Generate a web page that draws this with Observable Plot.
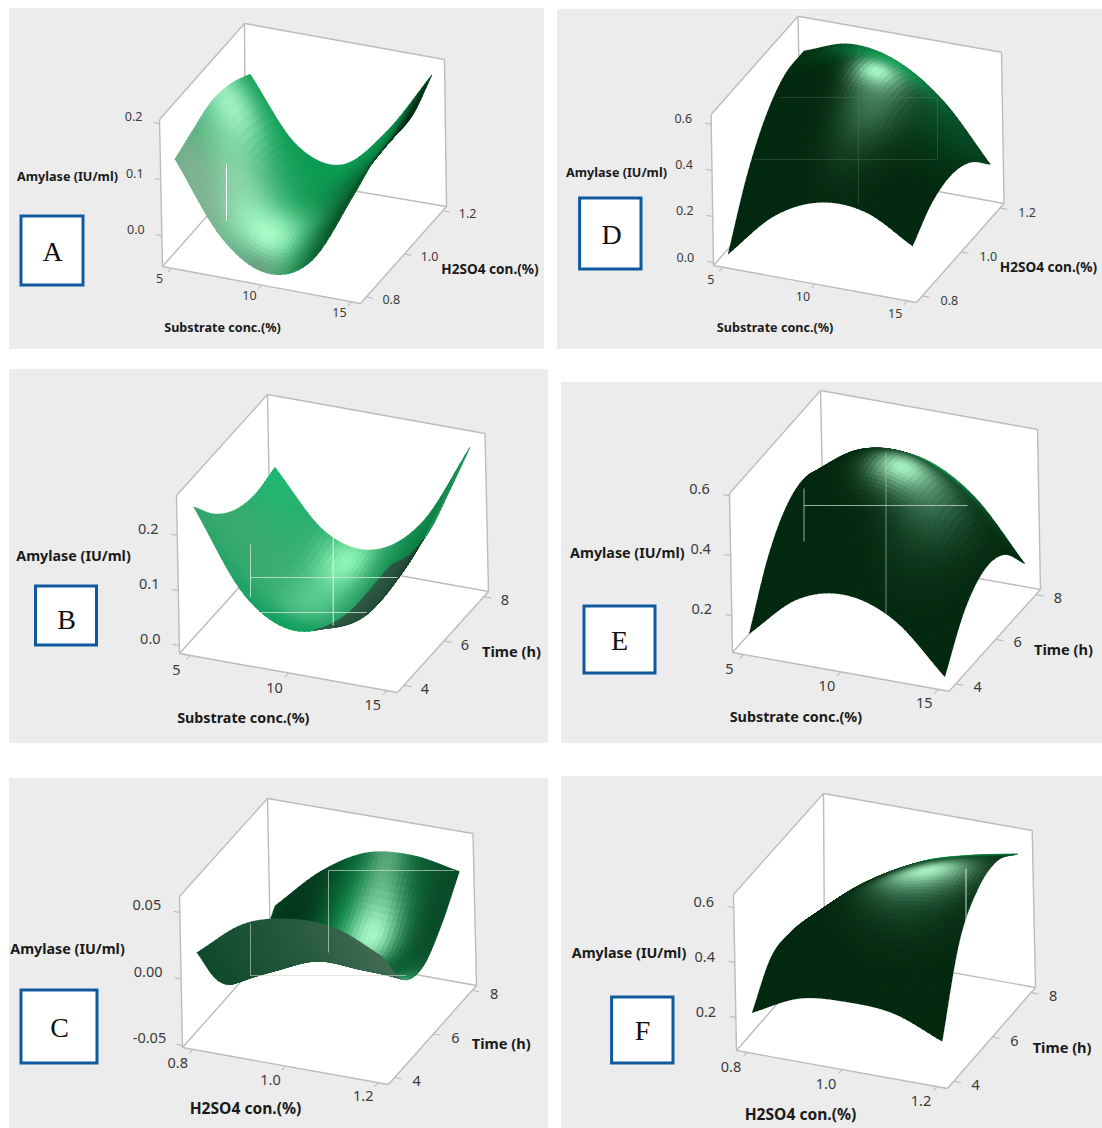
<!DOCTYPE html>
<html><head><meta charset="utf-8">
<style>html,body{margin:0;padding:0;background:#fff;overflow:hidden}#page{position:relative;width:1102px;height:1128px}</style>
<script src="https://cdn.jsdelivr.net/npm/d3@7"></script>
<script src="https://cdn.jsdelivr.net/npm/@observablehq/plot@0.6"></script>
</head><body><div id="page"></div>
<script>
// ---- values ----
const substrateNodes = [5, 7.5, 10, 12.5, 15];
const acidNodes = [0.8, 0.9, 1.0, 1.1, 1.2];
const timeNodes = [4, 5, 6, 7, 8];
const substrateTicks = [5, 10, 15];
const acidTicks = [0.8, 1.0, 1.2];
const timeTicks = [4, 6, 8];
const amylaseTicksAB = [0.0, 0.1, 0.2];
const amylaseTicksC = [-0.05, 0.0, 0.05];
const amylaseTicksD = [0.0, 0.2, 0.4, 0.6];
const amylaseTicksEF = [0.2, 0.4, 0.6];
// amylase at each node: rows = second factor, columns = first factor
const surfaceA = [
  [0.128, 0.003, -0.045, -0.008, 0.131],
  [0.144, 0.029, -0.012, 0.030, 0.150],
  [0.157, 0.040, 0.006, 0.050, 0.150],
  [0.149, 0.036, 0.009, 0.060, 0.152],
  [0.128, 0.018, -0.004, 0.070, 0.184]];
const surfaceB = [
  [0.242, 0.098, 0.050, 0.090, 0.200],
  [0.189, 0.064, 0.026, 0.050, 0.181],
  [0.156, 0.046, 0.015, 0.050, 0.186],
  [0.144, 0.041, 0.018, 0.060, 0.218],
  [0.153, 0.052, 0.035, 0.102, 0.253]];
const surfaceC = [
  [0.016, 0.043, 0.053, 0.052, 0.037],
  [-0.021, -0.006, 0.008, 0.008, 0.004],
  [-0.039, -0.020, -0.006, -0.008, -0.004],
  [-0.037, -0.015, 0.003, 0.003, 0.011],
  [-0.014, 0.018, 0.038, 0.042, 0.036]];
const surfaceD = [
  [0.017, 0.217, 0.313, 0.306, 0.196],
  [0.256, 0.418, 0.477, 0.433, 0.286],
  [0.419, 0.546, 0.570, 0.492, 0.312],
  [0.506, 0.601, 0.594, 0.484, 0.273],
  [0.517, 0.583, 0.547, 0.409, 0.169]];
const surfaceE = [
  [0.124, 0.267, 0.310, 0.253, 0.096],
  [0.306, 0.438, 0.471, 0.405, 0.239],
  [0.406, 0.527, 0.550, 0.474, 0.300],
  [0.425, 0.534, 0.546, 0.461, 0.278],
  [0.362, 0.459, 0.460, 0.365, 0.174]];
const surfaceF = [
  [0.20, 0.282, 0.30, 0.288, 0.219],
  [0.32, 0.435, 0.494, 0.519, 0.498],
  [0.33, 0.465, 0.549, 0.598, 0.61],
  [0.305, 0.445, 0.541, 0.599, 0.631],
  [0.265, 0.394, 0.488, 0.539, 0.574]];

// ---- layout and style of each panel ----
const SUB = "Substrate conc.(%)", ACID = "H2SO4 con.(%)", TIME = "Time (h)", AMY = "Amylase (IU/ml)";
const panels = [
 {id:"A", rect:[9,8,544,349], Bl:[162,266],Bf:[360,303],Br:[446,206],Bb:[245,172],Tl:[159,119],Tf:[359,155],Tr:[444,59],Tb:[244,23],
  xDom:[4.5,15.5], yDom:[0.77,1.22], zDom:[-0.055,0.207], xs:substrateNodes, ys:acidNodes, zs:surfaceA,
  xT:substrateTicks, yT:acidTicks, zT:amylaseTicksAB, xF:0, yF:1, zF:1, off:{x:[-12,11],y:[25,3],z:[-26,-6]}, tick:12.5,
  titles:[[AMY,67,176,12.6],[SUB,222,327,12.6],[ACID,489.5,269,13.6]], key:[21,216,83,285,52,252],
  base:"#0b9a52", under:["#0a5a30","#02240d"], underAxis:"t",
  spots:[[0.2,0.3,0.2,0.35,"#80d0a0",1],[0.05,0.62,0.14,0.26,"#9ff0c0",1],[0.1,0.05,0.25,0.25,"#7fb090",1],[0.75,0.5,0.15,0.3,"#0a7d40",0.8],[0.85,0.1,0.22,0.4,"#0a5a2a",1],[0.42,0.2,0.2,0.2,"#a8fcc8",1],[0.45,0,0.15,0.1,"#6aa080",0.9],[1,0.75,0.13,0.55,"#03290f",1]],
  hair:[[226,164,226,220,"#fff",1]]},
 {id:"B", rect:[9,369,548,743], Bl:[179,653],Bf:[397,692],Br:[488,591],Bb:[270,552],Tl:[176,495],Tf:[393.5,534],Tr:[484.5,433],Tb:[267,394],
  xDom:[4.45,15.55], yDom:[3.68,8.23], zDom:[-0.0145,0.2727], xs:substrateNodes, ys:timeNodes, zs:surfaceB,
  xT:substrateTicks, yT:timeTicks, zT:amylaseTicksAB, xF:0, yF:0, zF:1, off:{x:[-14,15],y:[21,4],z:[-29,-6]}, tick:14.5,
  titles:[[AMY,73,556,14.3],[SUB,242.8,718,14.3],[TIME,511,652,14.6]], key:[35.5,586,96.5,645,66,620],
  base:"#2aa368", under:["#2f5a45","#03200f"], underAxis:"t",
  spots:[[0.05,0.5,0.25,0.7,"#3aaa70",1],[0,1,0.2,0.3,"#20b870",1],[0.8,0.7,0.22,0.5,"#0a7d40",1],[0.4,0.5,0.15,0.35,"#55c88c",1],[0.4,0.88,0.12,0.22,"#8cf5b5",1],[0.45,0,0.3,0.2,"#10a060",0.9]],
  hair:[[250,544,250,597,"#cfe6d8",0.8],[250,577,397,577,"#cfe6d8",0.8],[332.7,535,332.7,625,"#e8f5ee",0.9],[259,612,366,612,"#cfe6d8",0.8]]},
 {id:"C", rect:[9,778,548,1128], Bl:[182,1047],Bf:[388,1084],Br:[476,985],Bb:[270,948],Tl:[179,896],Tf:[385,931],Tr:[472.5,833],Tb:[267,798],
  xDom:[0.778,1.222], yDom:[3.68,8.23], zDom:[-0.0515,0.062], xs:acidNodes, ys:timeNodes, zs:surfaceC,
  xT:acidTicks, yT:timeTicks, zT:amylaseTicksC, xF:1, yF:0, zF:2, off:{x:[-15,14],y:[22,4],z:[-33,-7]}, tick:14.5,
  titles:[[AMY,67,949,14.3],[ACID,245,1108,15.6],[TIME,500.7,1044,14.6]], key:[21,990,97,1063,59,1028],
  base:"#0a5a30", under:["#0f4a2c","#426b54"], underAxis:"s",
  spots:[[0.15,0.8,0.28,0.5,"#04341a",1],[0.98,0.85,0.14,0.35,"#0a4a28",1],[0.55,0.7,0.2,0.35,"#0a8a48",1],[0.62,0.98,0.1,0.3,"#4f9f70",1],[0.65,0.7,0.13,0.18,"#a5f7c5",1],[1,0.25,0.12,0.2,"#3fb078",0.9]],
  hair:[[328,870,454,870,"#dfe9e3",0.6],[328,870,328,952,"#dfe9e3",0.6],[250,923,250,975,"#cbd6cf",0.6],[250,975,406,975,"#cbd6cf",0.6]]},
 {id:"D", rect:[557,9,1102,349], Bl:[713,265],Bf:[916,302],Br:[1003.5,203],Bb:[800.5,166],Tl:[710.6,114],Tf:[914,150],Tr:[1001,51.7],Tb:[797.5,15.7],
  xDom:[4.5,15.5], yDom:[0.77,1.22], zDom:[-0.013,0.643], xs:substrateNodes, ys:acidNodes, zs:surfaceD,
  xT:substrateTicks, yT:acidTicks, zT:amylaseTicksD, xF:0, yF:1, zF:1, off:{x:[-12,13],y:[27,5],z:[-28,-5]}, tick:12.5,
  titles:[[AMY,616,172,12.6],[SUB,774.6,327,12.6],[ACID,1048,267,13.6]], key:[579.6,198,641,269,611,235],
  base:"#03290f", under:["#03290f","#03290f"], underAxis:"t",
  spots:[[0.5,0.95,0.3,0.16,"#0c9a50",1],[0.85,0.8,0.2,0.3,"#0a5a30",0.6],[0.58,0.55,0.15,0.3,"#4f8a68",0.8],[0.5,0.75,0.11,0.14,"#a5f7c5",1]],
  hair:[[780,97,937,97,"#5f8a70",0.3],[754,159,937,159,"#5f8a70",0.3],[858,45,858,205,"#5f8a70",0.3],[937,97,937,159,"#5f8a70",0.3]]},
 {id:"E", rect:[561,382,1102,743], Bl:[732,652],Bf:[948.6,690.7],Br:[1040,589],Bb:[823.4,550.3],Tl:[729,493],Tf:[946,532],Tr:[1037,429],Tb:[820,390],
  xDom:[4.44,15.55], yDom:[3.68,8.23], zDom:[0.077,0.607], xs:substrateNodes, ys:timeNodes, zs:surfaceE,
  xT:substrateTicks, yT:timeTicks, zT:amylaseTicksEF, xF:0, yF:0, zF:1, off:{x:[-14,14.5],y:[22,3.5],z:[-30,-6]}, tick:14.5,
  titles:[[AMY,626.8,553,14.3],[SUB,795.4,717,14.3],[TIME,1063,650,14.6]], key:[584,606,655,673,619,641],
  base:"#03290f", under:["#03290f","#03290f"], underAxis:"t",
  spots:[[0.55,1,0.25,0.14,"#0c9a50",1],[0.72,0.55,0.16,0.28,"#3f7a5a",0.75],[0.54,0.62,0.15,0.16,"#a5f0c0",1]],
  hair:[[803.5,505,967,505,"#c9d6ce",0.75],[803.5,488,803.5,541,"#c9d6ce",0.75],[885.5,452,885.5,615,"#c9d6ce",0.55]]},
 {id:"F", rect:[561,776,1102,1128], Bl:[736,1050],Bf:[947,1088],Br:[1035,987],Bb:[824,949],Tl:[733,894],Tf:[941.7,931],Tr:[1031.7,830],Tb:[823,793],
  xDom:[0.778,1.222], yDom:[3.68,8.23], zDom:[0.08,0.647], xs:acidNodes, ys:timeNodes, zs:surfaceF,
  xT:acidTicks, yT:timeTicks, zT:amylaseTicksEF, xF:1, yF:0, zF:1, off:{x:[-16,15],y:[22,4],z:[-30,-5]}, tick:14.5,
  titles:[[AMY,628.5,952.7,14.3],[ACID,800,1114,15.6],[TIME,1061.6,1048,14.6]], key:[611.6,997,673,1063,642,1031],
  base:"#03290f", under:["#03290f","#03290f"], underAxis:"t",
  spots:[[0.7,1,0.38,0.16,"#0c9a50",1],[0.68,0.48,0.24,0.2,"#3f7a5a",0.7],[0.68,0.62,0.22,0.14,"#a5f0c0",1]],
  hair:[[965.5,868,965.5,930,"#e6efe9",0.9]]}
];
const STEPS = 10, GREY = "#bcbcbc";

const frac = (d, a) => (a - d[0]) / (d[1] - d[0]);
const mix2 = (a, b, t) => [a[0] + (b[0] - a[0]) * t, a[1] + (b[1] - a[1]) * t];
function project(p, x, y, z) {
  const u = frac(p.xDom, x), v = frac(p.yDom, y), w = frac(p.zDom, z);
  const floor = mix2(mix2(p.Bl, p.Bf, u), mix2(p.Bb, p.Br, u), v);
  const top = mix2(mix2(p.Tl, p.Tf, u), mix2(p.Tb, p.Tr, u), v);
  return mix2(floor, top, w);
}
// smooth mesh between the read nodes
function spline(a, f) {
  const n = a.length - 1, i = Math.min(Math.floor(f * n), n - 1), t = f * n - i;
  const p1 = a[i], p2 = a[i + 1];
  const p0 = i > 0 ? a[i - 1] : 2 * p1 - p2, p3 = i < n - 1 ? a[i + 2] : 2 * p2 - p1;
  return 0.5 * (2 * p1 + (p2 - p0) * t + (2 * p0 - 5 * p1 + 4 * p2 - p3) * t * t + (3 * p1 - p0 - 3 * p2 + p3) * t * t * t);
}
function sampleZ(zs, s, t) { return spline(zs.map(row => spline(row, s)), t); }
function shade(p, s, t) {
  let c = d3.rgb(p.base), r = c.r, g = c.g, b = c.b;
  for (const [ss, st, rs, rt, col, amp] of p.spots) {
    const a = amp * Math.exp(-(((s - ss) / rs) ** 2 + ((t - st) / rt) ** 2)), k = d3.rgb(col);
    r += (k.r - r) * a; g += (k.g - g) * a; b += (k.b - b) * a;
  }
  return d3.rgb(r, g, b).formatHex();
}
function mesh(p) {
  const n = (p.xs.length - 1) * STEPS, m = (p.ys.length - 1) * STEPS;
  const X = d3.scaleLinear([0, 1], [p.xs[0], p.xs[p.xs.length - 1]]), Y = d3.scaleLinear([0, 1], [p.ys[0], p.ys[p.ys.length - 1]]);
  const pts = d3.range(m + 1).map(j => d3.range(n + 1).map(i => {
    const s = i / n, t = j / m; return project(p, X(s), Y(t), sampleZ(p.zs, s, t));
  }));
  const underMix = d3.interpolateRgb(p.under[0], p.under[1]);
  const cells = [];
  for (let j = 0; j < m; j++) for (let i = 0; i < n; i++) {
    const a = pts[j][i], b = pts[j][i + 1], c = pts[j + 1][i + 1], d = pts[j + 1][i];
    const cross = (c[0] - a[0]) * (d[1] - b[1]) - (c[1] - a[1]) * (d[0] - b[0]);
    const s = (i + 0.5) / n, t = (j + 0.5) / m;
    const colour = cross > 0 ? d3.color(underMix(p.underAxis === "s" ? s : t)).formatHex() : shade(p, s, t);
    cells.push({order: s - t, colour, poly: [a, b, c, d, a]});
  }
  cells.sort((q, r) => q.order - r.order);
  return cells.flatMap((q, k) => q.poly.map(([x, y]) => ({x, y, k, colour: q.colour})));
}
function panel(p) {
  const [x0, y0, x1, y1] = p.rect;
  const D = p.xDom, E = p.yDom, F = p.zDom;
  const hex = [[D[0],E[0],F[1]],[D[0],E[1],F[1]],[D[1],E[1],F[1]],[D[1],E[1],F[0]],[D[1],E[0],F[0]],[D[0],E[0],F[0]],[D[0],E[0],F[1]]].map(c => project(p, ...c));
  const corner = (a, b, c) => project(p, D[a], E[b], F[c]);
  const edges = [[0,0,0,1,0,0],[1,0,0,1,1,0],[0,0,0,0,1,0],[0,1,0,1,1,0],[0,0,0,0,0,1],[1,1,0,1,1,1],[0,1,0,0,1,1],[0,0,1,0,1,1],[0,1,1,1,1,1]]
    .map(e => [corner(e[0], e[1], e[2]), corner(e[3], e[4], e[5])]);
  const dy = E[1] - E[0], dx = D[1] - D[0];
  const ticks = [
    ...p.xT.map(v => ({a: project(p, v, E[0], F[0]), b: project(p, v, E[0] - dy * 0.04, F[0]), l: v.toFixed(p.xF), o: p.off.x})),
    ...p.yT.map(v => ({a: project(p, D[1], v, F[0]), b: project(p, D[1] + dx * 0.035, v, F[0]), l: v.toFixed(p.yF), o: p.off.y})),
    ...p.zT.map(v => ({a: project(p, D[0], E[0], v), b: project(p, D[0] - dx * 0.03, E[0], v), l: v.toFixed(p.zF), o: p.off.z}))];
  const node = Plot.plot({
    width: x1 - x0, height: y1 - y0, margin: 0,
    x: {domain: [x0, x1], range: [0, x1 - x0], axis: null},
    y: {domain: [y0, y1], range: [0, y1 - y0], axis: null},
    style: {background: "#ececec", position: "absolute", left: x0 + "px", top: y0 + "px", overflow: "hidden", maxWidth: "none"},
    marks: [
      Plot.line(hex, {x: "0", y: "1", fill: "#fff", stroke: "none"}),
      Plot.link(edges, {x1: e => e[0][0], y1: e => e[0][1], x2: e => e[1][0], y2: e => e[1][1], stroke: GREY, strokeWidth: 1.4}),
      Plot.link(ticks, {x1: d => d.a[0], y1: d => d.a[1], x2: d => d.b[0], y2: d => d.b[1], stroke: GREY, strokeWidth: 1.1}),
      Plot.line(mesh(p), {x: "x", y: "y", z: "k", fill: "colour", stroke: "colour", strokeWidth: 0.8, curve: "linear", shapeRendering: "crispEdges"}),
      Plot.link(p.hair, {x1: "0", y1: "1", x2: "2", y2: "3", stroke: "4", strokeOpacity: "5", strokeWidth: 1}),
      ...ticks.map(d => Plot.text([d.l], {x: [d.a[0]], y: [d.a[1]], text: [d.l], dx: d.o[0], dy: d.o[1], fontSize: p.tick, fill: "#3a3a3a", fontFamily: "Noto Sans"})),
      ...p.titles.map(t => Plot.text([t], {x: "1", y: "2", text: "0", fontSize: t[3], fontWeight: 700, fill: "#1a1a1a", fontFamily: "Noto Sans"})),
      Plot.rect([p.key], {x1: "0", y1: "1", x2: "2", y2: "3", fill: "#fff", stroke: "#0f5a9e", strokeWidth: 3}),
      Plot.text([p.key], {x: "4", y: "5", text: () => p.id, fontSize: 28, fill: "#111", fontFamily: "Liberation Serif"})
    ]
  });
  document.getElementById("page").append(node);
}
panels.forEach(panel);
</script></body></html>
